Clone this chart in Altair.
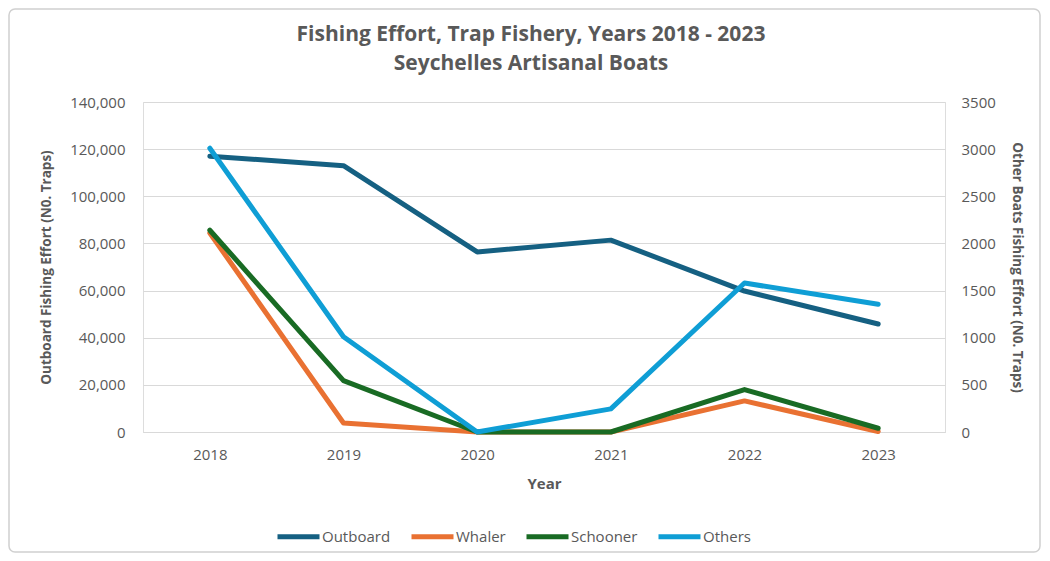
import altair as alt
import pandas as pd

years = ["2018", "2019", "2020", "2021", "2022", "2023"]
outboard = [117000, 113000, 76400, 81400, 59800, 45800]
whaler = [2110, 95, 0, 0, 330, 5]
schooner = [2140, 545, 0, 0, 450, 40]
others = [3010, 1010, 0, 245, 1580, 1355]

series_names = ["Outboard", "Whaler", "Schooner", "Others"]
series_colors = ["#156082", "#E97132", "#196B24", "#0F9ED5"]
title_lines = ["Fishing Effort, Trap Fishery, Years 2018 - 2023", "Seychelles Artisanal Boats"]

FONT = "Open Sans"
GRAY = "#595959"

rows = []
for name, vals in zip(series_names, [outboard, whaler, schooner, others]):
    for y, v in zip(years, vals):
        rows.append({"Year": y, "Series": name, "Value": v})
df = pd.DataFrame(rows)

color = alt.Color(
    "Series:N",
    scale=alt.Scale(domain=series_names, range=series_colors),
    legend=alt.Legend(
        title=None, orient="none", direction="horizontal",
        legendX=132, legendY=411,
        symbolType="stroke", symbolSize=1764, symbolStrokeWidth=5,
        labelFontSize=15, labelColor=GRAY, labelFont=FONT,
        labelOffset=0, columnPadding=10,
    ),
)

xenc = alt.X(
    "Year:O", sort=years, title="Year",
    scale=alt.Scale(paddingInner=0, paddingOuter=0.5),
    axis=alt.Axis(labelAngle=0, ticks=False, domainColor="#d9d9d9",
                  labelFontSize=15, labelColor=GRAY, labelFont=FONT, labelPadding=15,
                  titleFontSize=15, titleColor=GRAY, titleFont=FONT, titleFontWeight="bold",
                  titlePadding=14),
)

left_axis = alt.Axis(
    orient="left", format=",.0f", values=list(range(0, 140001, 20000)),
    ticks=False, domain=False, grid=True, gridColor="#d9d9d9",
    labelFontSize=15, labelColor=GRAY, labelFont=FONT, labelPadding=18,
    title="Outboard Fishing Effort (N0. Traps)", titleFontSize=13.5, titleColor=GRAY,
    titleFont=FONT, titleFontWeight="bold", titlePadding=16,
)
right_axis = alt.Axis(
    orient="right", format="d", values=list(range(0, 3501, 500)),
    ticks=False, domain=False, grid=False,
    labelFontSize=15, labelColor=GRAY, labelFont=FONT, labelPadding=16,
    title="Other Boats Fishing Effort (N0. Traps)", titleFontSize=13.5, titleColor=GRAY,
    titleFont=FONT, titleFontWeight="bold", titlePadding=14,
)

base = alt.Chart(df)

left = base.transform_filter(alt.datum.Series == "Outboard").mark_line(
    strokeWidth=5, strokeCap="round", strokeJoin="round"
).encode(
    x=xenc,
    y=alt.Y("Value:Q", scale=alt.Scale(domain=[0, 140000]), axis=left_axis),
    color=color,
)

def right_layer(name):
    return base.transform_filter(alt.datum.Series == name).mark_line(
        strokeWidth=5, strokeCap="round", strokeJoin="round"
    ).encode(
        x=xenc,
        y=alt.Y("Value:Q", scale=alt.Scale(domain=[0, 3500]), axis=right_axis),
        color=color,
    )

right = alt.layer(right_layer("Whaler"), right_layer("Schooner"), right_layer("Others"))

border = alt.Chart(alt.Data(values=[{"a": 1}])).mark_rect(
    fill=None, stroke="#d0d0d0", strokeWidth=1.5, cornerRadius=6, clip=False
).encode(
    x=alt.value(-134), x2=alt.value(897), y=alt.value(-93), y2=alt.value(450)
)

def title_text(line, ypos):
    return alt.Chart(alt.Data(values=[{"t": line}])).mark_text(
        font=FONT, fontSize=21, fontWeight="bold", color=GRAY,
        align="center", baseline="middle", clip=False
    ).encode(text="t:N", x=alt.value(388), y=alt.value(ypos))

chart = alt.layer(
    left, right, border, title_text(title_lines[0], -67), title_text(title_lines[1], -38)
).resolve_scale(y="independent").properties(
    width=802, height=330, padding=0,
).configure_view(stroke=None).configure(background="white")

chart.save("out.html", embed_options={"renderer": "svg", "actions": False})
